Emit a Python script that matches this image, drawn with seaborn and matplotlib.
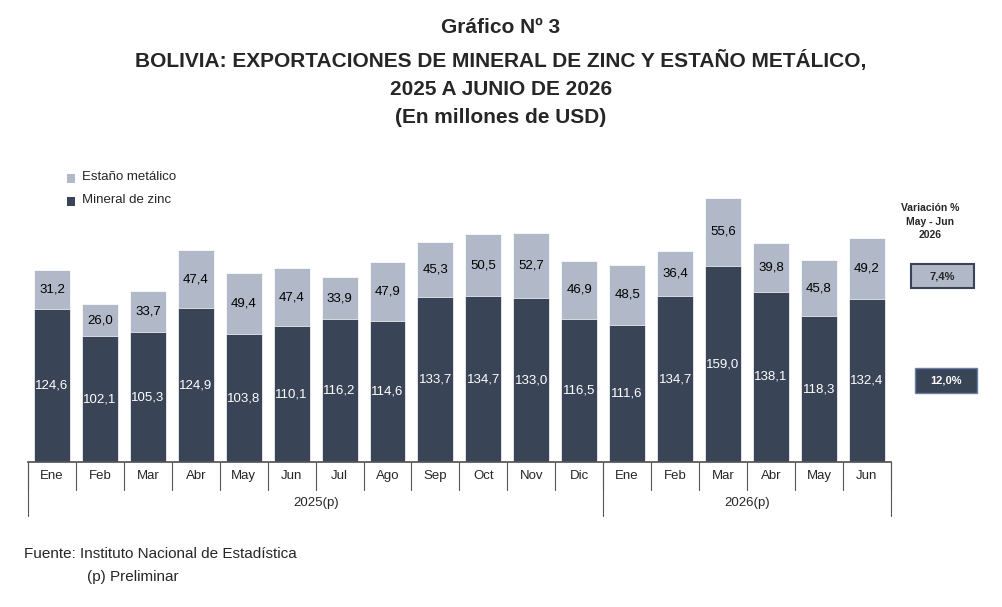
import matplotlib
matplotlib.use("Agg")
import matplotlib.pyplot as plt
import seaborn as sns
import pandas as pd
from matplotlib.patches import Rectangle

months = ["Ene","Feb","Mar","Abr","May","Jun","Jul","Ago","Sep","Oct","Nov","Dic",
          "Ene","Feb","Mar","Abr","May","Jun"]
zinc = [124.6,102.1,105.3,124.9,103.8,110.1,116.2,114.6,133.7,134.7,133.0,116.5,
        111.6,134.7,159.0,138.1,118.3,132.4]
tin = [31.2,26.0,33.7,47.4,49.4,47.4,33.9,47.9,45.3,50.5,52.7,46.9,
       48.5,36.4,55.6,39.8,45.8,49.2]
years = ["2025(p)", "2026(p)"]
var_tin = "7,4%"
var_zinc = "12,0%"

c_zinc = "#3a4457"
c_tin = "#b1b9c8"

sns.set_theme(style="white")
plt.rcParams['font.family'] = ['Liberation Sans', 'DejaVu Sans']
fig = plt.figure(figsize=(10.02, 6.07), dpi=100)
ax = fig.add_axes([0.028, 0.239, 0.861, 0.507])

idx = list(range(len(months)))
df = pd.DataFrame({"x": idx, "zinc": zinc, "total": [a+b for a, b in zip(zinc, tin)]})
sns.barplot(data=df, x="x", y="total", color=c_tin, width=0.75, saturation=1, ax=ax,
            edgecolor="white", linewidth=0.5)
sns.barplot(data=df, x="x", y="zinc", color=c_zinc, width=0.75, saturation=1, ax=ax,
            edgecolor="white", linewidth=0.5)
ax.set_ylim(0, 250)
ax.set_xlim(-0.5, len(months)-0.5)
ax.set_yticks([])
ax.set_xticks([])
ax.set_xlabel(""); ax.set_ylabel("")
for s in ["top", "right", "left"]:
    ax.spines[s].set_visible(False)
ax.spines["bottom"].set_color("#555555")

fmt = lambda v: f"{v:.1f}".replace(".", ",")
for i, (z, t) in enumerate(zip(zinc, tin)):
    ax.text(i, z/2, fmt(z), ha="center", va="center", color="white", fontsize=9.5)
    ax.text(i, z + t/2, fmt(t), ha="center", va="center", color="black", fontsize=9.5)

tr = ax.get_xaxis_transform()
for i, m in enumerate(months):
    ax.text(i, -0.045, m, transform=tr, ha="center", va="center", fontsize=9.5)
for e in [x - 0.5 for x in range(len(months)+1)]:
    ax.plot([e, e], [0, -0.09], transform=tr, color="#555555", lw=0.8, clip_on=False)
for e in [-0.5, 11.5, 17.5]:
    ax.plot([e, e], [0, -0.175], transform=tr, color="#555555", lw=0.8, clip_on=False)
ax.text(5.5, -0.135, years[0], transform=tr, ha="center", va="center", fontsize=9.5)
ax.text(14.5, -0.135, years[1], transform=tr, ha="center", va="center", fontsize=9.5)

fig.text(0.5, 0.955, "Gráfico Nº 3", ha="center", va="center", fontsize=15, fontweight="bold")
fig.text(0.5, 0.9, "BOLIVIA: EXPORTACIONES DE MINERAL DE ZINC Y ESTAÑO METÁLICO,",
         ha="center", va="center", fontsize=15, fontweight="bold")
fig.text(0.5, 0.853, "2025 A JUNIO DE 2026", ha="center", va="center", fontsize=15, fontweight="bold")
fig.text(0.5, 0.806, "(En millones de USD)", ha="center", va="center", fontsize=15, fontweight="bold")

for y, col, lab in [(0.708, c_tin, "Estaño metálico"), (0.670, c_zinc, "Mineral de zinc")]:
    fig.patches.append(Rectangle((0.067, y-0.009), 0.008, 0.014, transform=fig.transFigure,
                                 facecolor=col, edgecolor="none"))
    fig.text(0.082, y, lab, ha="left", va="center", fontsize=9.5)

fig.text(0.928, 0.635, "Variación %\nMay - Jun\n2026", ha="center", va="center",
         fontsize=7.5, fontweight="bold", linespacing=1.4)
fig.patches.append(Rectangle((0.909, 0.525), 0.063, 0.04, transform=fig.transFigure,
                             facecolor=c_tin, edgecolor=c_zinc, lw=1.5))
fig.text(0.9405, 0.545, var_tin, ha="center", va="center", fontsize=8, fontweight="bold")
fig.patches.append(Rectangle((0.913, 0.353), 0.062, 0.04, transform=fig.transFigure,
                             facecolor=c_zinc, edgecolor="#6a7fa8", lw=1))
fig.text(0.944, 0.373, var_zinc, ha="center", va="center", fontsize=8, fontweight="bold", color="white")

fig.text(0.024, 0.087, "Fuente: Instituto Nacional de Estadística", ha="left", va="center", fontsize=11)
fig.text(0.087, 0.05, "(p) Preliminar", ha="left", va="center", fontsize=11)

fig.savefig("out.png", dpi=100)
